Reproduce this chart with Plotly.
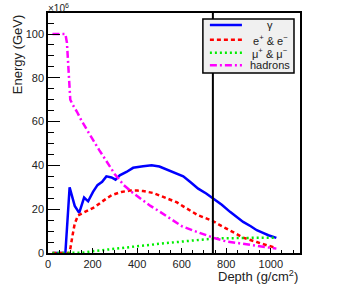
import plotly.graph_objects as go

# ---- data (Energy in units of 1e6 GeV) ----
gamma_x = [20, 40, 60, 78, 97, 120, 140, 162, 180, 202, 222, 243, 262, 285, 303, 322, 352, 382, 427, 465,
           500, 532, 570, 607, 640, 674, 710, 742, 780, 817, 850, 876, 910, 937, 965, 989, 1025]
gamma_y = [0, 0, 0, 0, 30, 21.5, 18.3, 25.3, 23.6, 27.9, 31, 32.5, 35, 34.5, 33.5, 35.5, 37, 38.9, 39.6, 40.1,
           39.5, 38.1, 36.8, 35, 32.3, 29.4, 27.2, 24.9, 22, 18.8, 16.3, 14.2, 12.2, 10.4, 9.2, 8.1, 6.9]

ee_x = [20, 40, 60, 80, 97, 110, 120, 135, 157, 180, 210, 240, 285, 330, 367, 400, 427, 472, 502, 547,
        577, 607, 640, 674, 710, 742, 770, 802, 839, 876, 910, 937, 982, 1019]
ee_y = [0, 0, 0, 0, 0, 8, 13.4, 17.2, 18.3, 19.5, 21, 23.3, 26.4, 27.9, 28.5, 28.5, 28.3, 27.4, 26.2, 24.5,
        23.2, 21.3, 19.2, 17.2, 15.8, 14.5, 12.8, 11.2, 9.1, 7, 6, 5, 3.5, 2.5]

mu_x = [20, 60, 100, 150, 200, 250, 300, 380, 430, 500, 580, 650, 710, 780, 850, 900, 960, 1025]
mu_y = [0, 0, 0, 0.1, 0.8, 1.3, 1.9, 2.7, 3.4, 4.2, 5, 5.8, 6.3, 6.7, 6.9, 7, 7, 7]

had_x = [20, 40, 60, 78, 85, 92, 100, 112, 130, 150, 175, 200, 230, 260, 300, 340, 380, 420, 460, 500,
         550, 600, 650, 700, 750, 800, 850, 900, 950, 1000, 1025]
had_y = [100, 100, 100, 100, 96, 82, 70, 67.5, 64.5, 60.5, 56, 52, 47, 42.5, 36, 31, 27.5, 24.5, 21.5, 19,
         15.5, 12.3, 10.3, 8.5, 6.7, 5.3, 4.6, 3.8, 3.2, 2.5, 2]

marker_depth = 740

y_ticks = [0, 20, 40, 60, 80, 100]
x_ticks = [0, 200, 400, 600, 800, 1000]

series = [
    ("γ", gamma_x, gamma_y, "#0000ff", "solid"),
    ("e<sup>+</sup> & e<sup>−</sup>", ee_x, ee_y, "#ff0000", "4px,3px"),
    ("μ<sup>+</sup> & μ<sup>−</sup>", mu_x, mu_y, "#00ee00", "2px,3px"),
    ("hadrons", had_x, had_y, "#ff00ff", "7px,3px,2px,3px"),
]

FONT = "Liberation Sans, Arial, Helvetica, sans-serif"

fig = go.Figure()
for name, xs, ys, col, dash in series:
    fig.add_trace(go.Scatter(x=xs, y=ys, mode="lines", name=name,
                             line=dict(color=col, width=2.5, dash=dash), showlegend=False))

# vertical marker line
fig.add_shape(type="line", xref="x", yref="paper", x0=marker_depth, x1=marker_depth, y0=0, y1=1,
              line=dict(color="black", width=2), layer="above")

# custom legend (ROOT-style, centred labels)
def px2x(px):
    return (px - 48.3) / 251.7

def py2y(py):
    return (252.7 - py) / 239.7

fig.add_shape(type="rect", xref="paper", yref="paper",
              x0=px2x(203), x1=px2x(294), y0=py2y(73), y1=py2y(19),
              fillcolor="#f0f0f0", line=dict(color="black", width=1.5), layer="above")
rows = [25, 39.7, 52.7, 65.3]
for (name, xs, ys, col, dash), ry in zip(series, rows):
    fig.add_shape(type="line", xref="paper", yref="paper",
                  x0=px2x(210), x1=px2x(242), y0=py2y(ry), y1=py2y(ry),
                  line=dict(color=col, width=2.5, dash=dash), layer="above")
    fig.add_annotation(xref="paper", yref="paper", x=px2x(270.5), y=py2y(ry), text=name,
                       showarrow=False, xanchor="center", yanchor="middle",
                       font=dict(family=FONT, size=11, color="#222"))

# axis titles / exponent
fig.add_annotation(xref="paper", yref="paper", x=px2x(18), y=1.0, text="Energy (GeV)", textangle=-90,
                   showarrow=False, xanchor="center", yanchor="top",
                   font=dict(family=FONT, size=13, color="#222"))
fig.add_annotation(xref="paper", yref="paper", x=1.0, y=py2y(276), text="Depth (g/cm<sup>2</sup>)",
                   showarrow=False, xanchor="right", yanchor="middle",
                   font=dict(family=FONT, size=13, color="#222"))
fig.add_annotation(xref="paper", yref="paper", x=px2x(46), y=py2y(8), text="×10<sup>6</sup>",
                   showarrow=False, xanchor="left", yanchor="middle",
                   font=dict(family=FONT, size=10, color="#222"))

fig.update_layout(
    width=349, height=285,
    margin=dict(l=48, r=49, t=13, b=32),
    paper_bgcolor="white", plot_bgcolor="white",
    font=dict(family=FONT, size=11, color="#222"),
    xaxis=dict(range=[0, 1131], showgrid=False, zeroline=False,
               showline=True, linecolor="black", linewidth=1.5, mirror=True,
               ticks="inside", ticklen=5, tickwidth=1, tickcolor="black",
               tickvals=x_ticks, ticktext=[str(v) for v in x_ticks],
               minor=dict(ticks="inside", ticklen=3, dtick=50, tickcolor="black", showgrid=False),
               tickfont=dict(family=FONT, size=11, color="#222")),
    yaxis=dict(range=[0, 109.6], showgrid=False, zeroline=False,
               showline=True, linecolor="black", linewidth=1.5, mirror=True,
               ticks="inside", ticklen=12, tickwidth=1, tickcolor="black",
               tickvals=y_ticks, ticktext=[str(v) for v in y_ticks],
               minor=dict(ticks="inside", ticklen=6, dtick=5, tickcolor="black", showgrid=False),
               tickfont=dict(family=FONT, size=11, color="#222")),
)

fig.write_html("out.html", config={"displayModeBar": False},
               post_script="document.body.style.margin='0';document.body.style.padding='0';")
